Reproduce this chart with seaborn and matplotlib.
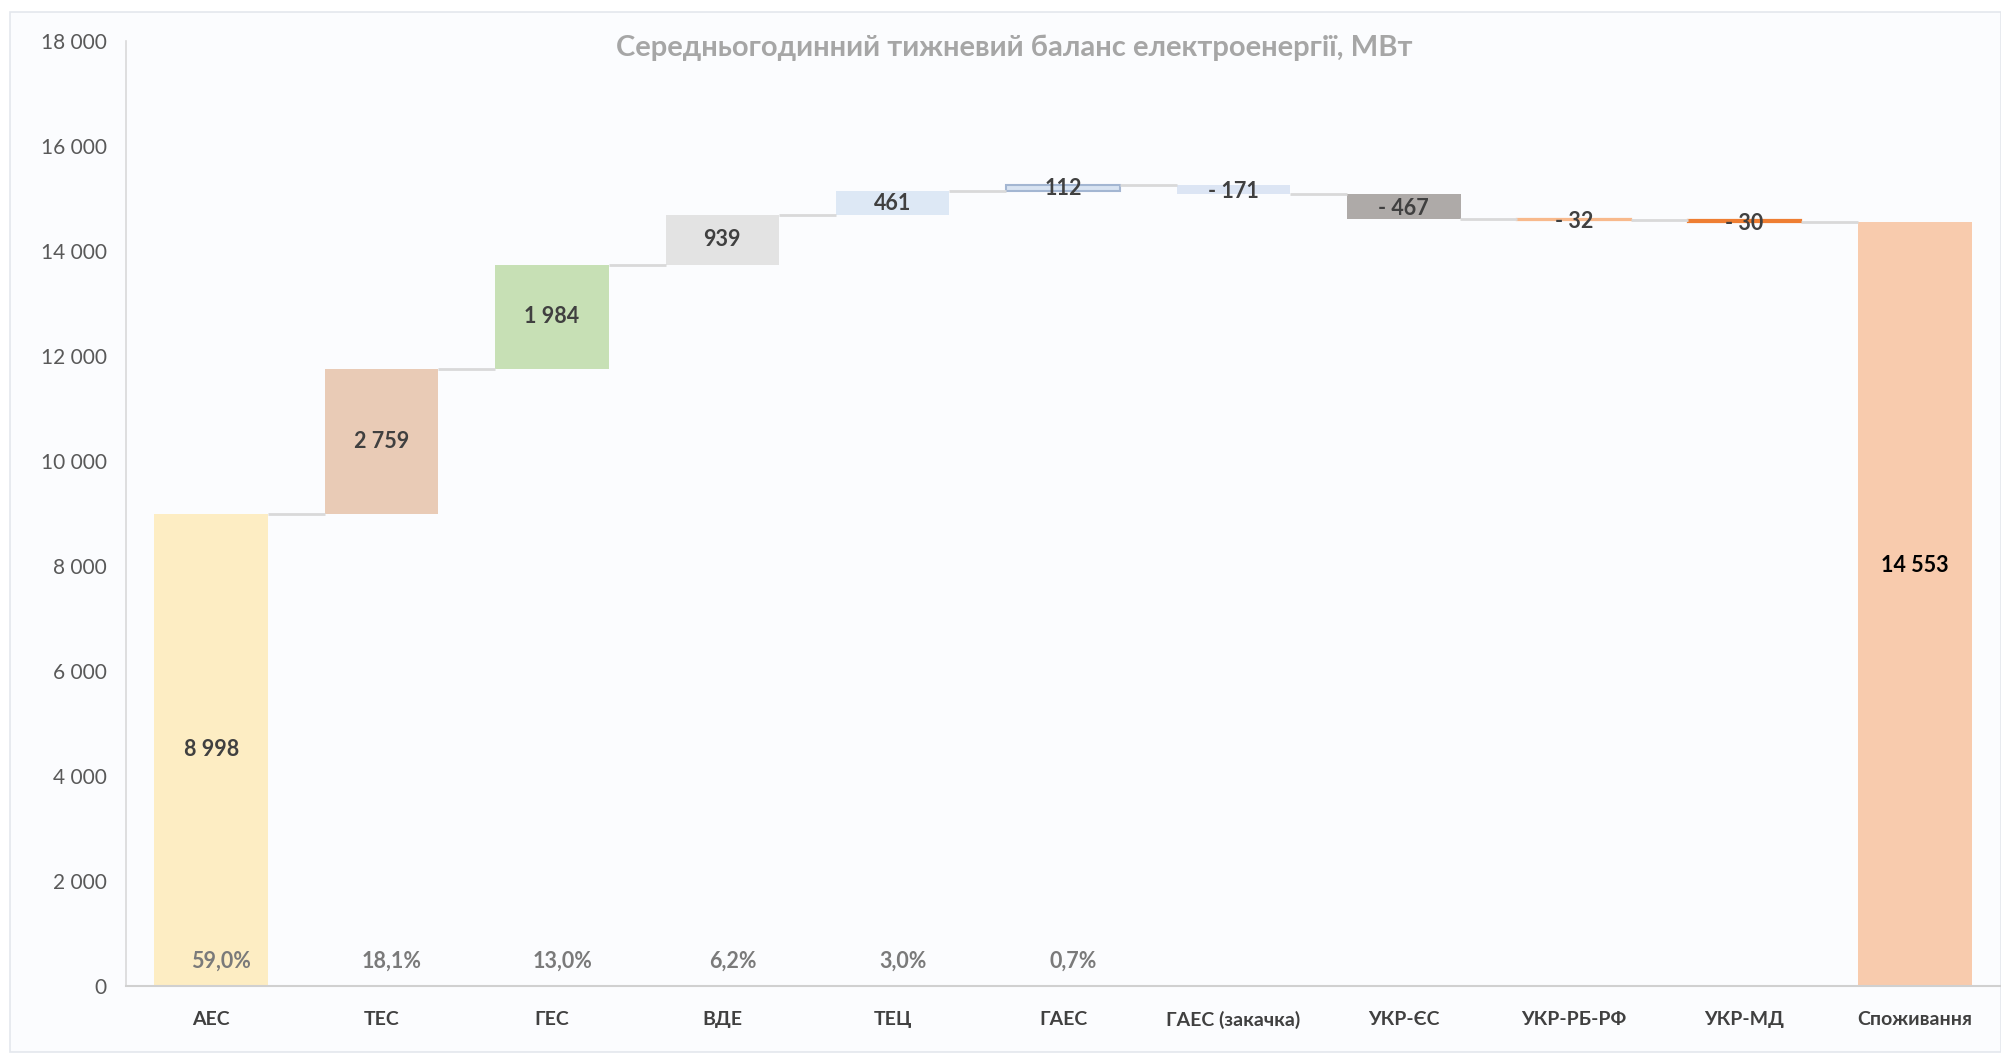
import numpy as np
import pandas as pd
import matplotlib
matplotlib.use("Agg")
import matplotlib.pyplot as plt
from matplotlib.patches import Rectangle
import seaborn as sns

# data
categories = ["АЕС", "ТЕС", "ГЕС", "ВДЕ", "ТЕЦ", "ГАЕС", "ГАЕС (закачка)",
              "УКР-ЄС", "УКР-РБ-РФ", "УКР-МД", "Споживання"]
deltas = [8998, 2759, 1984, 939, 461, 112, -171, -467, -32, -30]
total = 14553
shares = ["59,0%", "18,1%", "13,0%", "6,2%", "3,0%", "0,7%"]
title = "Середньогодинний тижневий баланс електроенергії, МВт"

colors = ["#FDEDC3", "#E9CBB6", "#C7E0B5", "#E3E3E3", "#DDE8F5", "#D8E3F2",
          "#DCE5F4", "#AEAAA8", "#F8B98C", "#EE7E33", "#F8CBAD"]

sns.set_theme(style="white")
plt.rcParams["font.family"] = ["Lato", "DejaVu Sans"]

running = np.cumsum(deltas)
bottoms = np.append(running - np.array(deltas), 0)
heights = np.append(deltas, total)
df = pd.DataFrame({"category": categories, "height": heights, "bottom": bottoms})

fig = plt.figure(figsize=(20.01, 10.56), dpi=100, facecolor="white")
fig.patches.append(Rectangle((0.005, 0.004), 0.995, 0.985, transform=fig.transFigure,
                             facecolor="#FBFCFE", edgecolor="#E4E7ED", lw=1.2, zorder=-5))
ax = fig.add_axes([0.063, 0.0663, 0.9365, 0.8949])
ax.set_facecolor("#FBFCFE")

sns.barplot(data=df, x="category", y="height", order=categories, bottom=df["bottom"].values,
            color="#cccccc", saturation=1, width=0.667, errorbar=None, ax=ax)
for bar, c in zip(ax.patches, colors):
    bar.set_facecolor(c)
    bar.set_edgecolor("none")
ax.patches[5].set_edgecolor("#A3B6D2")
ax.patches[5].set_linewidth(1.5)
# thin bars get an outline in their own colour, as in Excel
for k in (8, 9):
    ax.patches[k].set_edgecolor(colors[k])
    ax.patches[k].set_linewidth(1.6)

# connectors
levels = list(running)
for i, lev in enumerate(levels):
    ax.hlines(lev, i + 0.333, i + 1 - 0.333, color="#D9D9D9", lw=2, zorder=1)

# value labels
def fmt(v):
    s = f"{abs(v):,}".replace(",", " ")
    return "- " + s if v < 0 else s

for i, (b, h) in enumerate(zip(bottoms, heights)):
    last = i == len(categories) - 1
    col = "black" if last else "#404040"
    y = b + h * (0.55 if last else 0.5)
    if h < 0:
        y -= 40
    ax.text(i, y, fmt(h), ha="center", va="center", fontsize=15.5,
            fontweight="bold", color=col, zorder=5)

for i, s in enumerate(shares):
    ax.text(i + 0.06, 480, s, ha="center", va="center", fontsize=15.5,
            fontweight="bold", color="#7A7A7A", zorder=5)

ax.set_xlim(-0.5, len(categories) - 0.5)
ax.set_ylim(0, 18000)
ax.set_yticks(range(0, 18001, 2000))
ax.set_yticklabels([f"{v:,}".replace(",", " ") for v in range(0, 18001, 2000)])
ax.tick_params(axis="y", length=0, pad=14, labelsize=15, labelcolor="#595959")
ax.tick_params(axis="x", length=0, pad=18, labelsize=14, labelcolor="#404040")
for lab in ax.get_xticklabels():
    lab.set_fontweight("bold")
ax.set_xlabel("")
ax.set_ylabel("")
for side in ["top", "right"]:
    ax.spines[side].set_visible(False)
ax.spines["left"].set_color("#D9D9D9")
ax.spines["bottom"].set_color("#D0D0D0")
ax.spines["left"].set_linewidth(1.2)
ax.spines["bottom"].set_linewidth(1.5)

fig.text(0.507, 0.955, title, ha="center", va="center", fontsize=21,
         fontweight="bold", color="#A6A6A6")

fig.savefig("out.png", dpi=100, facecolor=fig.get_facecolor())
